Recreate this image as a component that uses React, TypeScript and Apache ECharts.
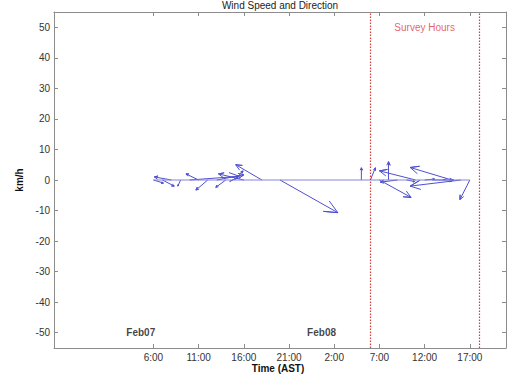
import React, { useEffect, useRef } from 'react';
import * as echarts from 'echarts';

// Hours counted from Feb07 00:00 AST
const xTickHours = [6, 11, 16, 21, 26, 31, 36, 41];
const yTicks = [-50, -40, -30, -20, -10, 0, 10, 20, 30, 40, 50];

// Feather plot: hourly samples, u = east component (drawn in hour units), v = north component (km/h)
const featherTimes = [6, 7, 8, 9, 10, 11, 12, 13, 14, 15, 16, 17, 18, 19, 20, 21, 22, 23, 24, 25, 26, 27, 28, 29, 30, 31, 32, 33, 34, 35, 36, 37, 38, 39, 40, 41];
const featherU = [1.1, 1.3, -1.9, -0.3, 5.5, -1.4, -1.3, 3.0, -1.1, 0.9, -2.8, 0, -2.9, 0, 6.4, 0, 0, 0, 0, 0, 0, 0, 0, 0, 0.55, 3.5, 0, -1.9, 0.9, -4.0, 1.1, 2.2, 0.3, -4.6, -5.6, -1.1];
const featherV = [-1, -2, 1, -2, 1.2, 2, -3.3, 1.7, -2.4, 3, 2, 0, 5, 0, -10.7, 0, 0, 0, 0, 0, 0, 0, 0, 4, 4, -5.7, 6, -0.7, -0.5, 3, 0.3, 0, 0.2, 4.1, -2, -6.4];

const surveyBounds = [30, 42];
const surveyLabel = 'Survey Hours';
const surveyLabelPos = [36, 50];
const dayLabels = ['Feb07', 'Feb08'];
const dayLabelHours = [3, 23];
const dayLabelY = -50;

const FONT = 'Liberation Sans, Arial, Helvetica, sans-serif';
const AXIS_GRAY = '#8c8c8c';
const ARROW = '#4f4fd0';

export default function App() {
  const ref = useRef<HTMLDivElement>(null);
  useEffect(() => {
    document.body.style.margin = '0';
    if (!ref.current) return;
    const chart = echarts.init(ref.current, null, { renderer: 'svg' });
    const featherData = featherTimes.map((t, i) => [t, featherU[i], featherV[i]]);
    const tickFmt = (v: number) => `${((v % 24) + 24) % 24}:00`;
    const xCommon = {
      type: 'value' as const,
      min: -5,
      max: 45,
      splitLine: { show: false },
      axisLine: { onZero: false, lineStyle: { color: AXIS_GRAY, width: 1 } },
      axisTick: { inside: true, length: 4, customValues: xTickHours, lineStyle: { color: AXIS_GRAY } },
    };
    const yCommon = {
      type: 'value' as const,
      min: -55,
      max: 55,
      splitLine: { show: false },
      axisLine: { onZero: false, lineStyle: { color: AXIS_GRAY, width: 1 } },
      axisTick: { inside: true, length: 4, customValues: yTicks, lineStyle: { color: AXIS_GRAY } },
    };
    chart.setOption({
      animation: false,
      backgroundColor: '#ffffff',
      grid: { left: 54, right: 13, top: 12, bottom: 27, containLabel: false, outerBoundsMode: 'none' },
      graphic: [
        {
          type: 'text',
          x: 280,
          y: 5.5,
          style: {
            text: 'Wind Speed and Direction',
            font: `10px ${FONT}`,
            fill: '#222',
            align: 'center',
            verticalAlign: 'middle',
          },
        },
        {
          type: 'text',
          x: 278,
          y: 368.5,
          style: {
            text: 'Time (AST)',
            font: `bold 10px ${FONT}`,
            fill: '#111',
            align: 'center',
            verticalAlign: 'middle',
          },
        },
      ],
      xAxis: [
        {
          ...xCommon,
          position: 'bottom',
          axisLabel: {
            customValues: xTickHours,
            formatter: tickFmt,
            fontSize: 10,
            fontFamily: FONT,
            color: '#333',
            margin: 4,
          },
        },
        {
          ...xCommon,
          position: 'top',
          axisLabel: { show: false },
        },
      ],
      yAxis: [
        {
          ...yCommon,
          position: 'left',
          axisLabel: {
            customValues: yTicks,
            fontSize: 10,
            fontFamily: FONT,
            color: '#333',
            margin: 4,
          },
          name: 'km/h',
          nameLocation: 'middle',
          nameGap: 26,
          nameTextStyle: { fontSize: 10, fontWeight: 'bold', fontFamily: FONT, color: '#111' },
        },
        {
          ...yCommon,
          position: 'right',
          axisLabel: { show: false },
        },
      ],
      series: [
        {
          type: 'line',
          xAxisIndex: 0,
          yAxisIndex: 0,
          data: [
            [featherTimes[0], 0],
            [featherTimes[featherTimes.length - 1], 0],
          ],
          symbol: 'none',
          lineStyle: { color: '#8484d8', width: 1 },
          silent: true,
          markLine: {
            symbol: 'none',
            silent: true,
            label: { show: false },
            lineStyle: { color: '#d83a3a', type: [1.5, 1.5], width: 1.2 },
            data: surveyBounds.map((x) => ({ xAxis: x })),
          },
        },
        {
          type: 'custom',
          xAxisIndex: 0,
          yAxisIndex: 0,
          data: featherData,
          silent: true,
          renderItem: (_params: any, api: any) => {
            const t = api.value(0);
            const u = api.value(1);
            const v = api.value(2);
            const s = api.coord([t, 0]);
            const e = api.coord([t + u, v]);
            const dx = e[0] - s[0];
            const dy = e[1] - s[1];
            const L = Math.hypot(dx, dy);
            if (L < 0.5) return { type: 'group', children: [] };
            const bx = s[0] + 0.8 * dx;
            const by = s[1] + 0.8 * dy;
            const px = -dy * 0.09;
            const py = dx * 0.09;
            return {
              type: 'polyline',
              shape: { points: [s, e, [bx + px, by + py], e, [bx - px, by - py]] },
              style: { stroke: ARROW, fill: null, lineWidth: 1 },
            };
          },
        },
        {
          type: 'scatter',
          xAxisIndex: 0,
          yAxisIndex: 0,
          symbolSize: 0,
          silent: true,
          data: dayLabels.map((d, i) => [dayLabelHours[i], dayLabelY, d]),
          label: {
            show: true,
            position: 'right',
            distance: 0,
            formatter: (p: any) => p.data[2],
            fontSize: 10,
            fontWeight: 'bold',
            fontFamily: FONT,
            color: '#111',
          },
        },
        {
          type: 'scatter',
          xAxisIndex: 0,
          yAxisIndex: 0,
          symbolSize: 0,
          silent: true,
          data: [[surveyLabelPos[0], surveyLabelPos[1], surveyLabel]],
          label: {
            show: true,
            position: 'inside',
            formatter: (p: any) => p.data[2],
            fontSize: 10,
            fontFamily: FONT,
            color: '#e03a3a',
          },
        },
      ],
    });
    return () => chart.dispose();
  }, []);
  return <div ref={ref} style={{ width: 519, height: 375 }} />;
}
